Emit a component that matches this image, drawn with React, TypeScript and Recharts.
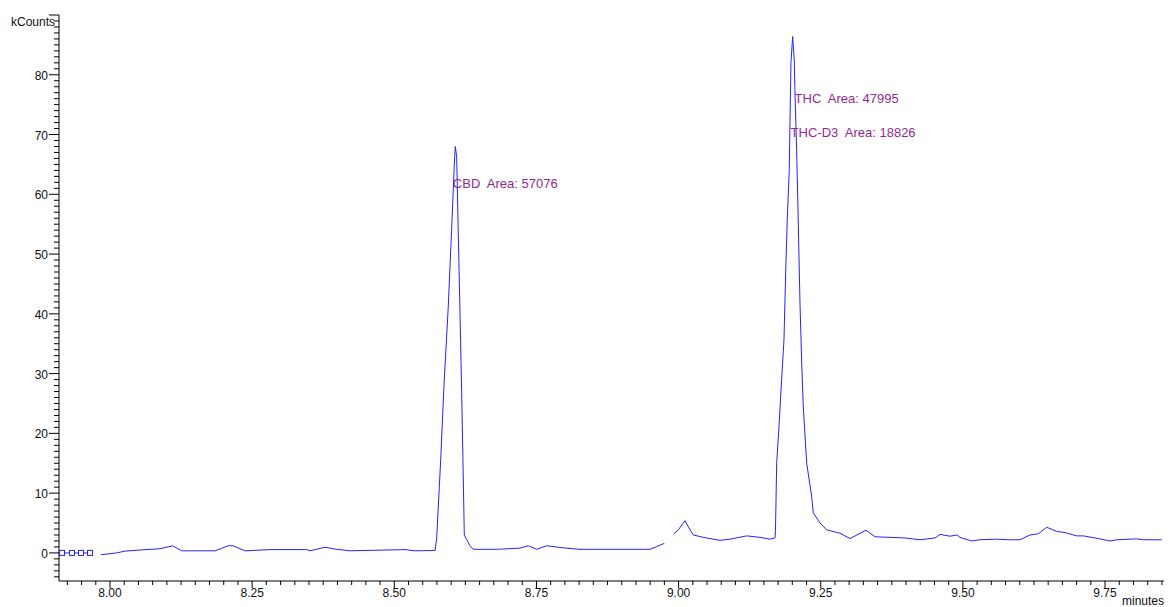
import React from 'react'
import { LineChart, Line, XAxis, YAxis, ReferenceDot, Label } from 'recharts'

// retention time (minutes) / intensity (kCounts)
const startTimes = [7.9156, 7.9332, 7.949, 7.9648]
const startCounts = [0, 0, 0, 0]

const traceATimes = [
  7.9842, 8.0118, 8.0264, 8.0558, 8.0879, 8.1103, 8.1261, 8.1847, 8.2081, 8.2163,
  8.2374, 8.2814, 8.346, 8.3518, 8.3781, 8.3987, 8.4221, 8.5188, 8.5364, 8.568,
  8.5717, 8.5746, 8.5816, 8.5874, 8.5948, 8.6008, 8.6054, 8.6072, 8.6097, 8.6124,
  8.6156, 8.6185, 8.6214, 8.6231, 8.6274, 8.6332, 8.639, 8.6801, 8.7211, 8.7357,
  8.7505, 8.7681, 8.7914, 8.8266, 8.938, 8.9497, 8.9615, 8.9749,
]
const traceACounts = [
  -0.3, 0, 0.3, 0.5, 0.7, 1.2, 0.35, 0.35, 1.2, 1.2,
  0.35, 0.55, 0.55, 0.35, 0.95, 0.6, 0.35, 0.55, 0.35, 0.4,
  0.4, 2.5, 15.6, 28, 41, 54, 64.7, 68, 66.3, 54,
  40, 26.8, 12.2, 3, 2.2, 1.2, 0.6, 0.6, 0.8, 1.2,
  0.6, 1.2, 0.9, 0.6, 0.6, 0.6, 1.05, 1.6,
]

const traceBTimes = [
  8.9919, 8.9995, 9.0113, 9.0201, 9.0259, 9.0435, 9.0729, 9.0905, 9.1198, 9.1432,
  9.1608, 9.1696, 9.1704, 9.1725, 9.177, 9.1812, 9.1853, 9.1888, 9.1911, 9.1946,
  9.1976, 9.2006, 9.2034, 9.2046, 9.2076, 9.2105, 9.2135, 9.2165, 9.2193, 9.2253,
  9.2341, 9.2369, 9.2487, 9.2605, 9.2839, 9.3015, 9.3296, 9.3455, 9.3982, 9.4246,
  9.451, 9.4598, 9.4774, 9.4897, 9.495, 9.5156, 9.5301, 9.5595, 9.5799, 9.6005,
  9.6181, 9.6327, 9.6474, 9.665, 9.6796, 9.7002, 9.7118, 9.7354, 9.7588, 9.7706,
  9.8057, 9.8173, 9.8497,
]
const traceBCounts = [
  3.2, 3.85, 5.4, 3.85, 3.0, 2.6, 2.1, 2.3, 2.85, 2.6,
  2.3, 2.5, 3.8, 15, 21.8, 29, 35.6, 48.5, 55.7, 64,
  82, 86.4, 82.5, 77.5, 67.4, 55.2, 41.8, 31.8, 24.4, 15,
  9.4, 6.7, 5, 3.85, 3.3, 2.4, 3.8, 2.7, 2.5, 2.2,
  2.5, 3.1, 2.8, 3.0, 2.6, 2.0, 2.2, 2.3, 2.2, 2.2,
  3.0, 3.2, 4.3, 3.6, 3.4, 2.85, 2.85, 2.45, 2.0, 2.2,
  2.35, 2.2, 2.2,
]

const peakLabels = ['CBD  Area: 57076', 'THC  Area: 47995', 'THC-D3  Area: 18826']
const peakLabelTimes = [8.603, 9.204, 9.197]
const peakLabelCounts = [61.8, 76, 70.3]

const xMajorLabels = ['8.00', '8.25', '8.50', '8.75', '9.00', '9.25', '9.50', '9.75']
const yMajorLabels = ['0', '10', '20', '30', '40', '50', '60', '70', '80', 'kCounts']

const toRows = (ts: number[], vs: number[]) => ts.map((t, i) => ({ t, v: vs[i] }))

const startData = toRows(startTimes, startCounts)
const traceA = toRows(traceATimes, traceACounts)
const traceB = toRows(traceBTimes, traceBCounts)

// minor ticks every 0.025 min, every 1 kCount
const xTicks: number[] = []
for (let i = -3; i <= 74; i++) xTicks.push(Math.round((8 + i * 0.025) * 1000) / 1000)
const yTicks: number[] = []
for (let i = -4; i <= 90; i++) yTicks.push(i)

const FONT = '"Liberation Sans", Arial, sans-serif'
const BLUE = '#2424ff'
const PURPLE = '#942894'

const XTick = (props: any) => {
  const { x, y, payload } = props
  const v = payload.value
  const q = Math.round(v * 4)
  const major = Math.abs(v * 4 - q) < 1e-6
  const label = major ? xMajorLabels[q - 32] : undefined
  return (
    <g>
      <line x1={x} y1={y} x2={x} y2={y + (major ? 7 : 4)} stroke="#000" />
      {label && (
        <text x={x} y={y + 16} textAnchor="middle" fontSize={12} fontFamily={FONT} fill="#111">
          {label}
        </text>
      )}
    </g>
  )
}

const YTick = (props: any) => {
  const { x, y, payload } = props
  const v = payload.value
  const major = v % 10 === 0
  const label = major && v >= 0 ? yMajorLabels[v / 10] : undefined
  const isUnit = v === 90
  return (
    <g>
      <line x1={x - (major ? 10 : 5)} y1={y} x2={x} y2={y} stroke="#000" />
      {label && (
        <text
          x={isUnit ? x - 4 : x - 11}
          y={isUnit ? y + 11 : y + 5}
          textAnchor="end"
          fontSize={12}
          fontFamily={FONT}
          fill="#111"
        >
          {label}
        </text>
      )}
    </g>
  )
}

const SquareDot = (props: any) => {
  const { cx, cy } = props
  if (cx == null || cy == null) return null
  return <rect x={cx - 2.5} y={cy - 2.5} width={5} height={5} fill="#fff" stroke={BLUE} strokeWidth={1} />
}

const PeakText = (text: string) => (props: any) => {
  const vb = props.viewBox || {}
  return (
    <text
      x={vb.x}
      y={vb.y}
      dy={4}
      textAnchor="start"
      fontSize={13}
      fontFamily={FONT}
      fill={PURPLE}
      style={{ whiteSpace: 'pre' }}
    >
      {text}
    </text>
  )
}

export default function App() {
  return (
    <div style={{ position: 'absolute', left: 0, top: 0, background: '#fff' }}>
      <LineChart width={1169} height={607} margin={{ top: 15, right: 5, bottom: 0, left: 0 }}>
        <XAxis
          type="number"
          dataKey="t"
          domain={[7.9103, 9.8537]}
          ticks={xTicks}
          interval={0}
          tick={<XTick />}
          tickLine={false}
          tickSize={0}
          tickMargin={0}
          height={26}
          axisLine={{ stroke: '#000' }}
          allowDataOverflow
        >
          <Label
            content={(p: any) => {
              const vb = p.viewBox || {}
              return (
                <text x={vb.x + vb.width - 42} y={vb.y + 24} fontSize={12} fontFamily={FONT} fill="#111">
                  minutes
                </text>
              )
            }}
          />
        </XAxis>
        <YAxis
          type="number"
          dataKey="v"
          domain={[-4.7, 90]}
          ticks={yTicks}
          interval={0}
          tick={<YTick />}
          tickLine={false}
          tickSize={0}
          tickMargin={0}
          width={59}
          axisLine={{ stroke: '#000' }}
          allowDataOverflow
        />
        <Line data={startData} dataKey="v" stroke={BLUE} strokeWidth={1} dot={<SquareDot />} isAnimationActive={false} />
        <Line data={traceA} dataKey="v" stroke={BLUE} strokeWidth={1} dot={false} isAnimationActive={false} />
        <Line data={traceB} dataKey="v" stroke={BLUE} strokeWidth={1} dot={false} isAnimationActive={false} />
        {peakLabels.map((text, i) => (
          <ReferenceDot
            key={text}
            x={peakLabelTimes[i]}
            y={peakLabelCounts[i]}
            r={0}
            fill="none"
            stroke="none"
            label={PeakText(text)}
          />
        ))}
      </LineChart>
    </div>
  )
}
